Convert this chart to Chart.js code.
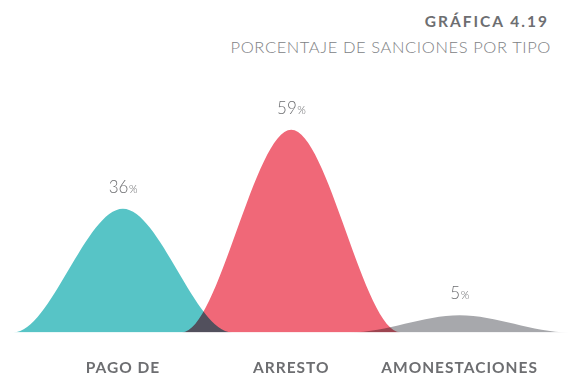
<!DOCTYPE html>
<html>
<head>
<meta charset="utf-8">
<script src="https://cdn.jsdelivr.net/npm/chart.js@4"></script>
<style>
  html, body { margin: 0; padding: 0; background: #fff; overflow: hidden; }
  #wrap { position: relative; width: 569px; height: 379px; overflow: hidden; }
  #title {
    position: absolute; right: 20px; top: 12px;
    font: 700 15.5px 'Lato', sans-serif; letter-spacing: 2px;
    color: #6d6e71; white-space: nowrap;
  }
  #subtitle {
    position: absolute; right: 18px; top: 37px;
    font: 300 16.5px 'Lato', sans-serif; letter-spacing: 0.6px;
    color: #808285; white-space: nowrap;
  }
  canvas { position: absolute; left: 0; top: 0; }
</style>
</head>
<body>
<div id="wrap">
  <div id="title">GRÁFICA 4.19</div>
  <div id="subtitle">PORCENTAJE DE SANCIONES POR TIPO</div>
  <canvas id="chart" width="569" height="405"></canvas>
</div>
<script>
const categories = ['PAGO DE', 'ARRESTO', 'AMONESTACIONES'];
const values = [36, 59, 5];
const centers = [1, 2, 3];
const colors = ['#57c4c6', '#f06878', '#a7a8ac'];

// each hump: flat foot, peak at the value, flat foot; monotone spline rounds it
const halfWidth = 0.65;
function hump(c, v) {
    return [
        { x: c - 2 * halfWidth, y: 0 },
        { x: c - halfWidth, y: 0 },
        { x: c, y: v },
        { x: c + halfWidth, y: 0 },
        { x: c + 2 * halfWidth, y: 0 }
    ];
}

// wider tracking for the category names
const spacing = {
    id: 'spacing',
    beforeDraw(chart) {
        chart.ctx.letterSpacing = '1px';
    },
    afterDraw(chart) {
        chart.ctx.letterSpacing = '0px';
    }
};

// overlapping areas get darker, like ink on paper
const multiplyPlugin = {
    id: 'multiply',
    beforeDatasetsDraw(chart) {
        chart.ctx.save();
        chart.ctx.globalCompositeOperation = 'multiply';
    },
    afterDatasetsDraw(chart) {
        chart.ctx.restore();
    }
};

// "36%" style labels above each peak, percent sign smaller
const peakLabels = {
    id: 'peakLabels',
    afterDatasetsDraw(chart) {
        const ctx = chart.ctx;
        ctx.save();
        ctx.letterSpacing = '0px';
        ctx.fillStyle = '#6d6e71';
        ctx.textBaseline = 'alphabetic';
        ctx.textAlign = 'left';
        chart.data.datasets.forEach((ds, i) => {
            const pt = chart.getDatasetMeta(i).data[2];
            const num = String(values[i]);
            ctx.font = '300 17px Lato, sans-serif';
            const w1 = ctx.measureText(num).width;
            ctx.font = '300 11px Lato, sans-serif';
            const w2 = ctx.measureText('%').width;
            const x0 = pt.x - (w1 + w2) / 2;
            const y = pt.y - 16;
            ctx.font = '300 17px Lato, sans-serif';
            ctx.fillText(num, x0, y);
            ctx.font = '300 11px Lato, sans-serif';
            ctx.fillText('%', x0 + w1 + 0.5, y);
        });
        ctx.restore();
    }
};

new Chart(document.getElementById('chart'), {
    type: 'line',
    data: {
        datasets: values.map((v, i) => ({
            label: categories[i],
            data: hump(centers[i], v),
            backgroundColor: colors[i],
            borderWidth: 0,
            pointRadius: 0,
            fill: 'origin',
            cubicInterpolationMode: 'monotone'
        }))
    },
    options: {
        responsive: false,
        animation: false,
        layout: { padding: { top: 92, bottom: 2, left: 0, right: 0 } },
        plugins: {
            legend: { display: false },
            tooltip: { enabled: false }
        },
        scales: {
            x: {
                type: 'linear',
                min: 0.27,
                max: 3.65,
                grid: { display: false, drawTicks: false },
                border: { display: false },
                afterBuildTicks: axis => { axis.ticks = centers.map(v => ({ value: v })); },
                ticks: {
                    padding: 26,
                    color: '#6d6e71',
                    font: { family: 'Lato', size: 15.5, weight: 'bold' },
                    callback: v => categories[centers.indexOf(v)]
                }
            },
            y: {
                display: false,
                min: 0,
                max: 70
            }
        }
    },
    plugins: [spacing, multiplyPlugin, peakLabels]
});
</script>
</body>
</html>
